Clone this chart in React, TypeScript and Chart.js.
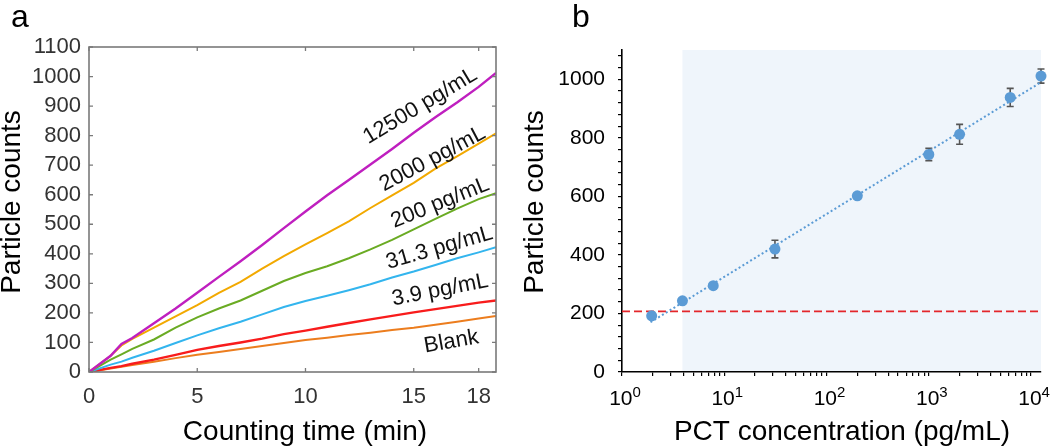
import React, { useEffect, useRef } from "react";
import { Chart, registerables } from "chart.js";

Chart.register(...registerables);
Chart.defaults.font.family = "'Liberation Sans', Arial, Helvetica, sans-serif";

// ---------- Panel a: cumulative particle counts vs counting time ----------
const TIME = [0, 1, 1.5, 2, 3, 4, 5, 6, 7, 8, 9, 10, 11, 12, 13, 14, 15, 16, 17, 18, 18.8];
const C_12500 = [0, 55, 95, 115, 165, 215, 268, 322, 375, 430, 487, 543, 598, 650, 702, 755, 810, 862, 912, 965, 1012];
const C_2000 = [0, 55, 90, 112, 150, 188, 226, 268, 305, 350, 392, 432, 470, 510, 555, 598, 640, 688, 730, 773, 808];
const C_200 = [0, 42, 60, 78, 110, 150, 185, 215, 242, 275, 308, 335, 358, 385, 415, 447, 483, 518, 553, 585, 605];
const C_31 = [0, 25, 35, 48, 72, 98, 124, 148, 170, 195, 220, 240, 258, 277, 297, 320, 340, 362, 385, 405, 422];
const C_3_9 = [0, 14, 20, 28, 42, 58, 75, 88, 100, 113, 128, 140, 153, 166, 178, 190, 202, 213, 224, 235, 242];
const C_BLANK = [0, 12, 18, 24, 35, 47, 58, 68, 78, 88, 98, 108, 116, 125, 133, 142, 150, 160, 170, 181, 190];

const SERIES_A = [C_12500, C_2000, C_200, C_31, C_3_9, C_BLANK];
const SERIES_LABELS = ["12500 pg/mL", "2000 pg/mL", "200 pg/mL", "31.3 pg/mL", "3.9 pg/mL", "Blank"];
const SERIES_COLORS = ["#bf1fbf", "#f2a900", "#6aab23", "#33b5ee", "#f81c1c", "#ec7d1e"];
const LABEL_T = [15.3, 15.87, 16.22, 16.19, 16.22, 16.74];
const LABEL_V = [900, 721, 572, 420, 277, 102];
const LABEL_ANGLE = [-31, -28, -22, -16, -11, -10];
const X_TICKS_A = [0, 5, 10, 15, 18];
const Y_TICKS_A = [0, 100, 200, 300, 400, 500, 600, 700, 800, 900, 1000, 1100];

// ---------- Panel b: calibration curve ----------
const CONC = [1.95, 3.9, 7.8, 31.3, 200, 1000, 2000, 6250, 12500];
const COUNTS = [192, 243, 295, 420, 602, 743, 812, 938, 1011];
const ERR = [12, 8, 8, 30, 10, 21, 34, 31, 24];
const FIT_X = [1.9, 12500];
const FIT_Y = [170, 990];
const LOD = 207;
const LINEAR_START = 3.9;
const X_DECADES = [1, 10, 100, 1000, 10000];
const X_EXPONENTS = ["0", "1", "2", "3", "4"];

const FONT = "'Liberation Sans', Arial, Helvetica, sans-serif";

function buildLogTicks(max: number) {
  const out: number[] = [];
  for (let k = 0; k <= 4; k++) {
    for (let m = 1; m <= 9; m++) {
      const v = m * Math.pow(10, k);
      if (v <= max) out.push(v);
    }
  }
  return out;
}

function buildLinTicks(step: number, max: number) {
  const out: number[] = [];
  for (let v = 0; v < max; v += step) out.push(v);
  return out;
}

const panelAPlugin = {
  id: "panelA",
  afterDraw(chart: any) {
    const { ctx, chartArea, scales } = chart;
    const { left, right, top, bottom } = chartArea;
    const x = scales.x;
    const y = scales.y;
    ctx.save();
    ctx.strokeStyle = "#7a7a7a";
    ctx.lineWidth = 1.3;
    ctx.beginPath();
    X_TICKS_A.forEach((v) => {
      const px = x.getPixelForValue(v);
      ctx.moveTo(px, bottom);
      ctx.lineTo(px, bottom - 4);
      ctx.moveTo(px, top);
      ctx.lineTo(px, top + 4);
    });
    Y_TICKS_A.forEach((v) => {
      const py = y.getPixelForValue(v);
      ctx.moveTo(left, py);
      ctx.lineTo(left + 4, py);
      ctx.moveTo(right, py);
      ctx.lineTo(right - 4, py);
    });
    ctx.stroke();
    ctx.lineWidth = 1.6;
    ctx.strokeRect(left, top, right - left, bottom - top);

    ctx.fillStyle = "#111";
    ctx.font = `22px ${FONT}`;
    ctx.textAlign = "center";
    ctx.textBaseline = "middle";
    SERIES_LABELS.forEach((t, i) => {
      ctx.save();
      ctx.translate(x.getPixelForValue(LABEL_T[i]), y.getPixelForValue(LABEL_V[i]));
      ctx.rotate((LABEL_ANGLE[i] * Math.PI) / 180);
      ctx.fillText(t, 0, 0);
      ctx.restore();
    });

    ctx.fillStyle = "#000";
    ctx.font = `28px ${FONT}`;
    ctx.fillText("Counting time (min)", 305, 432);
    ctx.save();
    ctx.translate(12, 202);
    ctx.rotate(-Math.PI / 2);
    ctx.fillText("Particle counts", 0, 0);
    ctx.restore();

    ctx.font = `32px ${FONT}`;
    ctx.textAlign = "left";
    ctx.textBaseline = "alphabetic";
    ctx.fillText("a", 11, 27);
    ctx.restore();
  },
};

const panelBPlugin = {
  id: "panelB",
  beforeDatasetsDraw(chart: any) {
    const { ctx, chartArea, scales } = chart;
    const x = scales.x;
    const y = scales.y;
    ctx.save();
    ctx.fillStyle = "rgb(239,245,251)";
    const x0 = x.getPixelForValue(LINEAR_START);
    ctx.fillRect(x0, chartArea.top, chartArea.right - x0, chartArea.bottom - chartArea.top - 1);
    // error bars
    ctx.strokeStyle = "#555";
    ctx.lineWidth = 1.6;
    ctx.beginPath();
    CONC.forEach((c, i) => {
      const px = x.getPixelForValue(c);
      const pHi = y.getPixelForValue(COUNTS[i] + ERR[i]);
      const pLo = y.getPixelForValue(COUNTS[i] - ERR[i]);
      ctx.moveTo(px, pHi);
      ctx.lineTo(px, pLo);
      ctx.moveTo(px - 3.5, pHi);
      ctx.lineTo(px + 3.5, pHi);
      ctx.moveTo(px - 3.5, pLo);
      ctx.lineTo(px + 3.5, pLo);
    });
    ctx.stroke();
    ctx.restore();
  },
  afterDraw(chart: any) {
    const { ctx, chartArea, scales } = chart;
    const x = scales.x;
    ctx.save();
    ctx.fillStyle = "#000";
    ctx.textBaseline = "alphabetic";
    X_DECADES.forEach((v, i) => {
      const px = x.getPixelForValue(v);
      ctx.font = `21px ${FONT}`;
      const w1 = ctx.measureText("10").width;
      ctx.font = `15px ${FONT}`;
      const w2 = ctx.measureText(X_EXPONENTS[i]).width;
      const start = px + 3 - (w1 + w2) / 2;
      ctx.font = `21px ${FONT}`;
      ctx.textAlign = "left";
      ctx.fillText("10", start, chartArea.bottom + 33);
      ctx.font = `15px ${FONT}`;
      ctx.fillText(X_EXPONENTS[i], start + w1, chartArea.bottom + 25);
    });

    ctx.font = `28px ${FONT}`;
    ctx.textAlign = "center";
    ctx.textBaseline = "middle";
    ctx.fillText("PCT concentration (pg/mL)", 322, 432);
    ctx.save();
    ctx.translate(15, 202);
    ctx.rotate(-Math.PI / 2);
    ctx.fillText("Particle counts", 0, 0);
    ctx.restore();

    ctx.font = `32px ${FONT}`;
    ctx.textAlign = "left";
    ctx.textBaseline = "alphabetic";
    ctx.fillText("b", 52, 27);
    ctx.restore();
  },
};

export default function App() {
  const refA = useRef<HTMLCanvasElement | null>(null);
  const refB = useRef<HTMLCanvasElement | null>(null);

  useEffect(() => {
    if (!refA.current || !refB.current) return;

    const chartA = new Chart(refA.current, {
      type: "line",
      data: {
        datasets: SERIES_A.map((s, i) => ({
          label: SERIES_LABELS[i],
          data: TIME.map((t, j) => ({ x: t, y: s[j] })),
          borderColor: SERIES_COLORS[i],
          backgroundColor: SERIES_COLORS[i],
          borderWidth: i === 0 || i === 4 ? 2.4 : 2,
          pointRadius: 0,
          fill: false,
          tension: 0,
        })),
      },
      options: {
        animation: false,
        responsive: false,
        devicePixelRatio: 1,
        layout: { padding: { left: 0, top: 47, right: 24, bottom: 0 } },
        plugins: { legend: { display: false }, tooltip: { enabled: false } },
        scales: {
          x: {
            type: "linear",
            min: 0,
            max: 18.8,
            afterBuildTicks: (s: any) => {
              s.ticks = X_TICKS_A.map((v) => ({ value: v }));
            },
            afterFit: (s: any) => {
              s.height = 76;
            },
            grid: { display: false, drawTicks: false },
            border: { display: false },
            ticks: {
              padding: 12,
              color: "#333",
              font: { size: 22 },
              maxRotation: 0,
              autoSkip: false,
              callback: (v: any) => String(v),
            },
          },
          y: {
            type: "linear",
            min: 0,
            max: 1100,
            afterBuildTicks: (s: any) => {
              s.ticks = Y_TICKS_A.map((v) => ({ value: v }));
            },
            afterFit: (s: any) => {
              s.width = 89;
            },
            grid: { display: false, drawTicks: false },
            border: { display: false },
            ticks: {
              padding: 8,
              color: "#333",
              font: { size: 22 },
              autoSkip: false,
              callback: (v: any) => String(v),
            },
          },
        },
      },
      plugins: [panelAPlugin],
    } as any);

    const xTicksB = buildLogTicks(12500);
    const yTicksB = buildLinTicks(40, 1100);

    const chartB = new Chart(refB.current, {
      type: "scatter",
      data: {
        datasets: [
          {
            type: "scatter",
            data: CONC.map((c, i) => ({ x: c, y: COUNTS[i] })),
            backgroundColor: "#5b9bd5",
            borderColor: "#5b9bd5",
            pointRadius: 5.5,
            borderWidth: 0,
            clip: false,
            order: 0,
          },
          {
            type: "line",
            data: FIT_X.map((v, i) => ({ x: v, y: FIT_Y[i] })),
            borderColor: "#5b9bd5",
            borderWidth: 2,
            borderDash: [2, 2.5],
            pointRadius: 0,
            fill: false,
            order: 1,
          },
          {
            type: "line",
            data: [
              { x: 1, y: LOD },
              { x: 12500, y: LOD },
            ],
            borderColor: "#e3262b",
            borderWidth: 1.6,
            borderDash: [8, 4],
            pointRadius: 0,
            fill: false,
            order: 2,
          },
        ],
      },
      options: {
        animation: false,
        responsive: false,
        devicePixelRatio: 1,
        layout: { padding: { left: 0, top: 50, right: 9, bottom: 0 } },
        plugins: { legend: { display: false }, tooltip: { enabled: false } },
        scales: {
          x: {
            type: "logarithmic",
            min: 1,
            max: 12500,
            afterBuildTicks: (s: any) => {
              s.ticks = xTicksB.map((v) => ({ value: v }));
            },
            afterFit: (s: any) => {
              s.height = 76;
            },
            grid: { display: true, drawOnChartArea: false, drawTicks: true, tickLength: 4, color: "#000", lineWidth: 1.2 },
            border: { display: true, color: "#000", width: 1.6 },
            ticks: { display: false, autoSkip: false },
          },
          y: {
            type: "linear",
            min: 0,
            max: 1100,
            afterBuildTicks: (s: any) => {
              s.ticks = yTicksB.map((v) => ({ value: v }));
            },
            afterFit: (s: any) => {
              s.width = 102;
            },
            grid: { display: true, drawOnChartArea: false, drawTicks: true, tickLength: 4, color: "#000", lineWidth: 1.2 },
            border: { display: true, color: "#000", width: 1.6 },
            ticks: {
              padding: 13,
              color: "#000",
              font: { size: 21 },
              autoSkip: false,
              callback: (v: any) => (Number(v) % 200 === 0 ? String(v) : ""),
            },
          },
        },
      },
      plugins: [panelBPlugin],
    } as any);

    return () => {
      chartA.destroy();
      chartB.destroy();
    };
  }, []);

  return (
    <div style={{ position: "absolute", left: 0, top: 0, width: 1050, height: 448, background: "#fff", overflow: "hidden" }}>
      <canvas ref={refA} width={520} height={448} style={{ position: "absolute", left: 0, top: 0, width: 520, height: 448 }} />
      <canvas ref={refB} width={530} height={448} style={{ position: "absolute", left: 520, top: 0, width: 530, height: 448 }} />
    </div>
  );
}
